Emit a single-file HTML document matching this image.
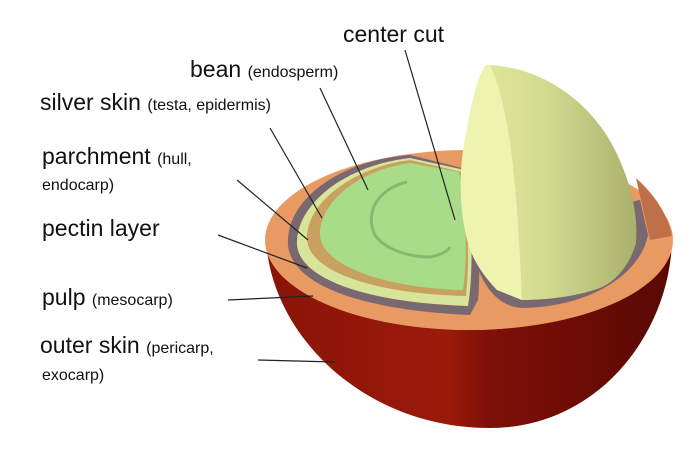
<!DOCTYPE html>
<html><head><style>
html,body{margin:0;padding:0;background:#fff;}
svg{display:block;}
text{font-family:"Liberation Sans",sans-serif;fill:#111;}
</style></head><body>
<svg width="700" height="449" viewBox="0 0 700 449">
<defs>
<linearGradient id="red" x1="0" x2="1">
<stop offset="0" stop-color="#8a1408"/><stop offset="0.45" stop-color="#9b1a0a"/><stop offset="0.55" stop-color="#7e1008"/><stop offset="1" stop-color="#5a0804"/>
</linearGradient>
<linearGradient id="dome" x1="0" x2="1">
<stop offset="0" stop-color="#e4eba0"/><stop offset="0.5" stop-color="#d2da90"/><stop offset="1" stop-color="#a9b06c"/>
</linearGradient>
</defs>
<path d="M266,236 C268,330 360,428 490,428 C600,428 672,330 672,236 C640,300 560,330 470,330 C370,330 290,295 266,236 Z" fill="url(#red)"/>
<ellipse cx="469" cy="240" rx="204" ry="90" fill="#e89a62"/>
<path d="M636,178 C655,195 668,215 672,236 L650,240 Z" fill="#c07048"/>
<path d="M470,240 C480,290 500,308 525,308 C590,306 640,275 648,235 L640,200 Z" fill="#7a6870"/>
<path d="M410,155 C340,160 285,200 288,245 C292,285 360,310 470,315 L478,300 C482,260 475,200 470,170 Z" fill="#7a6870"/>
<path d="M410,158 C345,165 295,205 297,245 C300,280 370,303 468,306 C474,270 472,210 465,170 Z" fill="#d8e49a"/>
<path d="M410,160 C350,168 305,205 307,240 C310,272 375,294 466,296 C470,260 468,210 462,172 Z" fill="#c8a060"/>
<path d="M410,163 C356,170 318,205 320,236 C323,266 385,288 463,290 C468,255 466,205 459,172 Z" fill="#a8dc88"/>
<path d="M407,182 C375,190 365,215 375,235 C385,250 410,257 430,257 C440,255 447,252 450,247" fill="none" stroke="#88b870" stroke-width="3"/>
<path d="M486,65 C540,66 590,100 615,150 C632,185 638,215 636,243 C630,265 615,282 600,288 C575,297 545,300 522,300 L497,290 C480,272 470,255 466,235 C458,200 460,160 466,135 C472,100 478,75 486,65 Z" fill="url(#dome)"/>
<path d="M486,65 C478,75 472,100 466,135 C460,160 458,200 466,235 C470,255 480,272 497,290 L522,300 C520,260 518,200 510,143 C505,110 498,80 490,66 Z" fill="#eef4b0"/>
<g stroke="#222" stroke-width="1.2" fill="none">
<line x1="405" y1="50" x2="455" y2="220"/>
<line x1="320" y1="88" x2="368" y2="190"/>
<line x1="270" y1="128" x2="322" y2="218"/>
<line x1="237" y1="180" x2="308" y2="240"/>
<line x1="218" y1="235" x2="307" y2="268"/>
<line x1="228" y1="300" x2="313" y2="296"/>
<line x1="258" y1="360" x2="335" y2="362"/>
</g>
<text x="343" y="42" font-size="23">center cut</text>
<text x="190" y="77" font-size="23">bean <tspan font-size="16">(endosperm)</tspan></text>
<text x="40" y="110" font-size="23">silver skin <tspan font-size="16">(testa, epidermis)</tspan></text>
<text x="42" y="164" font-size="23">parchment <tspan font-size="16">(hull,</tspan></text>
<text x="42" y="190" font-size="16">endocarp)</text>
<text x="42" y="236" font-size="23">pectin layer</text>
<text x="42" y="305" font-size="23">pulp <tspan font-size="16">(mesocarp)</tspan></text>
<text x="40" y="353" font-size="23">outer skin <tspan font-size="16">(pericarp,</tspan></text>
<text x="42" y="380" font-size="16">exocarp)</text>
</svg>
</body></html>
